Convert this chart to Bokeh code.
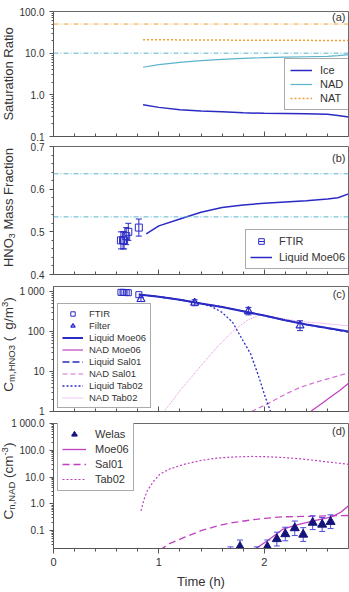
import math
from bokeh.plotting import figure
from bokeh.layouts import column, row
from bokeh.core.properties import value
from bokeh.models import (Range1d, FixedTicker, CustomJSTickFormatter, Span,
                          Label, Legend, LegendItem)
from bokeh.embed import file_html
from bokeh.resources import INLINE

# ---------------- data ----------------
# (a) saturation ratios
t_sat = [0.85, 1.0, 1.2, 1.4, 1.6, 1.8, 2.0, 2.2, 2.4, 2.6, 2.7, 2.8]
s_ice = [0.58, 0.50, 0.44, 0.41, 0.39, 0.37, 0.36, 0.355, 0.35, 0.34, 0.32, 0.295]
s_nad = [4.6, 5.3, 6.0, 6.6, 7.1, 7.5, 7.8, 8.0, 8.2, 8.4, 8.7, 9.2]
s_nat = [21.0, 21.0, 20.8, 20.7, 20.6, 20.5, 20.5, 20.4, 20.3, 20.2, 20.1, 20.0]
s_ref_nat = 50.0
s_ref_nad = 10.0

# (b) HNO3 mass fraction
t_ftir = [0.64, 0.66, 0.67, 0.69, 0.71, 0.81]
w_ftir = [0.48, 0.48, 0.48, 0.49, 0.50, 0.51]
w_ftir_lo = [0.46, 0.46, 0.46, 0.47, 0.48, 0.49]
w_ftir_hi = [0.50, 0.50, 0.50, 0.51, 0.52, 0.53]
t_wliq = [0.88, 1.0, 1.2, 1.4, 1.6, 1.8, 2.0, 2.2, 2.4, 2.6, 2.7, 2.8]
w_liq = [0.495, 0.514, 0.530, 0.546, 0.557, 0.563, 0.567, 0.570, 0.573, 0.577, 0.580, 0.589]
w_nad = 0.636
w_nat = 0.535

# (c) HNO3 mass concentration
c_ftir = [950, 950, 940, 940, 930, 830]
t_filter = [0.83, 1.34, 1.85, 2.34]
c_filter = [640, 520, 320, 140]
c_filter_lo = [560, 440, 260, 105]
c_filter_hi = [720, 620, 400, 185]
t_liq = [0.81, 1.0, 1.2, 1.4, 1.6, 1.8, 2.0, 2.2, 2.4, 2.6, 2.8]
c_liq_moe = [840, 740, 620, 500, 410, 320, 250, 190, 150, 122, 100]
c_liq_sal = [840, 740, 620, 500, 410, 320, 250, 190, 150, 120, 97]
t_liq_tab = [0.81, 1.0, 1.2, 1.4, 1.5, 1.6, 1.7, 1.8, 1.87, 1.95, 2.01, 2.06]
c_liq_tab = [840, 740, 620, 490, 420, 300, 170, 58, 28, 7.2, 2.3, 1.0]
t_nad_moe = [2.44, 2.55, 2.63, 2.72, 2.8]
c_nad_moe = [1.0, 1.6, 2.3, 3.4, 5.1]
t_nad_sal = [1.88, 2.03, 2.2, 2.34, 2.5, 2.66, 2.8]
c_nad_sal = [1.0, 1.55, 2.7, 4.0, 5.5, 7.2, 9.3]
t_nad_tab = [1.05, 1.2, 1.39, 1.55, 1.71, 1.84, 1.96, 2.1, 2.34, 2.6, 2.8]
c_nad_tab = [1.0, 3.3, 13, 40, 106, 190, 262, 225, 178, 155, 138]

# (d) NAD number concentration
t_welas = [1.68, 1.77, 1.93, 2.03, 2.12, 2.20, 2.29, 2.37, 2.46, 2.55, 2.63]
n_welas = [0.014, 0.025, 0.014, 0.025, 0.049, 0.075, 0.125, 0.072, 0.20, 0.17, 0.215]
n_welas_lo = [0.008, 0.014, 0.008, 0.014, 0.027, 0.042, 0.066, 0.040, 0.11, 0.094, 0.12]
n_welas_hi = [0.025, 0.045, 0.025, 0.045, 0.088, 0.135, 0.23, 0.13, 0.36, 0.31, 0.39]
t_n_moe = [1.9, 2.03, 2.18, 2.3, 2.4, 2.5, 2.6, 2.66, 2.73, 2.8]
n_moe = [0.019, 0.042, 0.115, 0.16, 0.2, 0.25, 0.3, 0.36, 0.5, 0.85]
t_n_sal = [1.01, 1.1, 1.24, 1.4, 1.55, 1.7, 1.87, 2.0, 2.18, 2.35, 2.5, 2.65, 2.8]
n_sal = [0.019, 0.033, 0.056, 0.1, 0.15, 0.2, 0.25, 0.29, 0.33, 0.34, 0.35, 0.36, 0.37]
t_n_tab = [0.83, 0.86, 0.89, 0.95, 1.01, 1.1, 1.24, 1.4, 1.55, 1.7, 1.87, 2.0, 2.18, 2.35, 2.5, 2.65, 2.8]
n_tab = [0.55, 1.5, 3.1, 7.0, 12.8, 20, 30, 42, 51, 56, 59, 58, 54, 48, 41, 35, 30]

x_major = [0, 1, 2]
x_minor = [0.2, 0.4, 0.6, 0.8, 1.2, 1.4, 1.6, 1.8, 2.2, 2.4, 2.6]

# ---------------- style ----------------
FONT = "Liberation Sans"
TXT = "#333333"
AXC = "#555555"
BLUE = "#2a2ac4"
LBLUE = "#5ab4cc"
ORANGE = "#f0a030"
MAG = "#c040c0"
PINK = "#d070d0"
LPINK = "#e08ce0"
NAVY = "#14147a"
EBAR = "#4c4cde"
LAB_W = 20   # width of the strip that carries the rotated y titles

ADV = {'C': .722, 'm': .833, ',': .278, 'H': .722, 'N': .722, 'O': .778, '3': .556,
       ' ': .278, '(': .333, ')': .333, 'g': .556, '/': .278, 'n': .556, 'A': .667,
       'D': .722, 'c': .5, '-': .333, 'M': .833, 'a': .556, 's': .5, 'F': .611,
       'r': .333, 't': .278, 'i': .222, 'o': .556, 'S': .667, 'u': .556, 'R': .722}


def text_len(txt, size):
    return sum(ADV.get(ch, .556) for ch in txt) * size


def make_fig(height, y_type, y_rng, top, bottom, xlabels):
    p = figure(width=349, height=height, y_axis_type=y_type,
               x_range=Range1d(0, 2.8), y_range=Range1d(*y_rng),
               output_backend="svg", toolbar_location=None, tools="",
               min_border_left=53, min_border_right=1,
               min_border_top=top, min_border_bottom=bottom)
    p.grid.visible = False
    p.outline_line_color = "#6a6a6a"
    p.outline_line_width = 1
    p.border_fill_alpha = 0.0
    p.background_fill_color = "white"
    xa = p.xaxis[0]
    xa.ticker = FixedTicker(ticks=x_major, minor_ticks=x_minor)
    xa.axis_line_color = AXC
    xa.major_tick_line_color = AXC
    xa.minor_tick_line_color = AXC
    if xlabels:
        xa.major_tick_out, xa.major_tick_in = 5, 0
        xa.minor_tick_out, xa.minor_tick_in = 3, 0
        xa.major_label_text_font = FONT
        xa.major_label_text_font_size = "11px"
        xa.major_label_text_color = TXT
        xa.major_label_standoff = 4
        xa.axis_label = "Time (h)"
        xa.axis_label_text_font = FONT
        xa.axis_label_text_font_size = "13px"
        xa.axis_label_text_font_style = "normal"
        xa.axis_label_text_color = TXT
        xa.axis_label_standoff = 5
    else:
        xa.major_tick_out, xa.major_tick_in = 0, 5
        xa.minor_tick_out, xa.minor_tick_in = 0, 3
        xa.formatter = CustomJSTickFormatter(code="return ''")
        xa.major_label_text_font_size = "1px"
        xa.major_label_standoff = 0
    ya = p.yaxis[0]
    ya.axis_line_color = AXC
    ya.major_tick_line_color = AXC
    ya.minor_tick_line_color = AXC
    ya.major_tick_out, ya.major_tick_in = 4, 0
    ya.minor_tick_out, ya.minor_tick_in = 2, 0
    ya.major_label_text_font = FONT
    ya.major_label_text_font_size = "10px"
    ya.major_label_text_color = TXT
    ya.major_label_standoff = 5
    return p


def log_minor(lo_exp, hi_exp):
    return [k * 10.0 ** e for e in range(lo_exp, hi_exp) for k in range(2, 10)]


def fmt(decimals):
    return CustomJSTickFormatter(code=f"""
        let s = tick.toFixed({decimals});
        const parts = s.split('.');
        if (parts[0].length > 3) {{
            parts[0] = parts[0].slice(0, parts[0].length - 3) + ' ' + parts[0].slice(-3);
        }}
        return parts.join('.');
    """)


def tag(p, txt, y):
    p.add_layout(Label(x=292, y=y, x_units="screen", y_units="screen", text=txt,
                       text_font=FONT, text_font_size="11px", text_align="right",
                       text_baseline="middle", text_color=TXT))


def style_legend(leg, size):
    leg.label_text_font = FONT
    leg.label_text_font_size = f"{size}px"
    leg.label_text_color = TXT
    leg.border_line_color = "#555555"
    leg.border_line_width = 1
    leg.background_fill_alpha = 1.0
    leg.margin = 0


def errorbars(p, t, lo, hi, color, cap=6):
    p.segment(x0=t, y0=lo, x1=t, y1=hi, line_color=color, line_width=1)
    p.scatter(x=t, y=lo, marker="dash", size=cap, line_color=color, line_width=1)
    p.scatter(x=t, y=hi, marker="dash", size=cap, line_color=color, line_width=1)


# ---------------- strip with the rotated y-axis titles ----------------
lab = figure(width=LAB_W, height=592, x_range=Range1d(0, LAB_W), y_range=Range1d(592, 0),
             output_backend="svg", toolbar_location=None, tools="",
             x_axis_location=None, y_axis_location=None, min_border=0)
lab.grid.visible = False
lab.outline_line_color = None
lab.background_fill_alpha = 0.0
lab.border_fill_alpha = 0.0


def y_title(pieces, center, x=7.5):
    # pieces: (text, font size, sideways shift); a number alone is a gap in em of 13px
    def adv(piece):
        return 13 * piece if not isinstance(piece, tuple) else text_len(piece[0], piece[1])
    total = sum(adv(pc) for pc in pieces)
    y = center + total / 2
    for pc in pieces:
        if isinstance(pc, tuple):
            txt, size, shift = pc
            lab.text(x=[x + shift], y=[y], text=[txt], angle=math.pi / 2,
                     text_font=value(FONT), text_font_size=value(f"{size}px"),
                     text_align="left", text_baseline="middle", text_color=TXT)
        y -= adv(pc)


SP = 0.278
y_title([("Saturation Ratio", 13, 0)], 73.5)
y_title([("HNO", 13, 0), ("3", 9, 3.5), SP, ("Mass Fraction", 13, 0)], 207)
y_title([("C", 13.5, 0), ("m,HNO3", 9.5, 3.5), SP, ("(", 13.5, 0), 2 * SP, ("g/m", 13.5, 0),
         ("3", 9.5, -3.5), (")", 13.5, 0)], 344)
y_title([("C", 13.5, 0), ("n,NAD", 9.5, 3.5), SP, ("(cm", 13.5, 0), ("-3", 9.5, -3.5),
         (")", 13.5, 0)], 480.5)

# ---------------- (a) saturation ratio ----------------
pa = make_fig(141, "log", (0.1, 100), 11, 5, False)
pa.yaxis[0].ticker = FixedTicker(ticks=[0.1, 1, 10, 100], minor_ticks=log_minor(-1, 2))
pa.yaxis[0].formatter = fmt(1)
pa.add_layout(Span(location=s_ref_nat, dimension="width", line_color=ORANGE,
                   line_width=1, line_dash="5 2 1 2"))
pa.add_layout(Span(location=s_ref_nad, dimension="width", line_color=LBLUE,
                   line_width=1, line_dash="5 2 1 2"))
r_ice = pa.line(t_sat, s_ice, line_color=BLUE, line_width=1.5)
r_nad = pa.line(t_sat, s_nad, line_color=LBLUE, line_width=1.2)
r_nat = pa.line(t_sat, s_nat, line_color=ORANGE, line_width=1.5, line_dash="2 2")
leg_a = Legend(items=[LegendItem(label="Ice", renderers=[r_ice]),
                      LegendItem(label="NAD", renderers=[r_nad]),
                      LegendItem(label="NAT", renderers=[r_nat])],
               location=(231, 26), glyph_width=22, glyph_height=12, label_height=12,
               spacing=2, padding=5, label_standoff=8)
style_legend(leg_a, 11)
pa.add_layout(leg_a)
tag(pa, "(a)", 120)

# ---------------- (b) HNO3 mass fraction ----------------
pb = make_fig(139, "linear", (0.4, 0.7), 5, 6, False)
pb.yaxis[0].ticker = FixedTicker(ticks=[0.4, 0.5, 0.6, 0.7],
                                 minor_ticks=[0.42, 0.44, 0.46, 0.48, 0.52, 0.54, 0.56,
                                              0.58, 0.62, 0.64, 0.66, 0.68])
pb.yaxis[0].formatter = fmt(1)
pb.add_layout(Span(location=w_nad, dimension="width", line_color=LBLUE,
                   line_width=1, line_dash="5 2 1 2"))
pb.add_layout(Span(location=w_nat, dimension="width", line_color=LBLUE,
                   line_width=1, line_dash="5 2 1 2"))
r_wliq = pb.line(t_wliq, w_liq, line_color=BLUE, line_width=1.5)
errorbars(pb, t_ftir, w_ftir_lo, w_ftir_hi, BLUE)
r_ftir_b = pb.scatter(t_ftir, w_ftir, marker="square", size=7, line_color=BLUE,
                      fill_alpha=0.0, line_width=1)
r_ftir_b_bar = pb.scatter([-1], [0.5], marker="dash", angle=math.pi / 2, size=13,
                          line_color=BLUE, line_width=1)
leg_b = Legend(items=[LegendItem(label="FTIR", renderers=[r_ftir_b_bar, r_ftir_b]),
                      LegendItem(label="Liquid Moe06", renderers=[r_wliq])],
               location=(192, 5), glyph_width=22, glyph_height=14, label_height=14,
               spacing=2, padding=4, label_standoff=7)
style_legend(leg_b, 11)
pb.add_layout(leg_b)
tag(pb, "(b)", 117)

# ---------------- (c) HNO3 mass concentration ----------------
pc = make_fig(137, "log", (1, 1330), 6, 6, False)
pc.yaxis[0].ticker = FixedTicker(ticks=[1, 10, 100, 1000], minor_ticks=log_minor(0, 3))
pc.yaxis[0].formatter = fmt(0)
r_nad_tab = pc.line(t_nad_tab, c_nad_tab, line_color=LPINK, line_width=1, line_dash="1 1")
r_nad_sal = pc.line(t_nad_sal, c_nad_sal, line_color=PINK, line_width=1.2, line_dash="5 3")
r_nad_moe = pc.line(t_nad_moe, c_nad_moe, line_color=MAG, line_width=1.2)
r_liq_tab = pc.line(t_liq_tab, c_liq_tab, line_color=BLUE, line_width=1.3, line_dash="2 2")
r_liq_sal = pc.line(t_liq, c_liq_sal, line_color=BLUE, line_width=1.5, line_dash="7 3")
r_liq_moe = pc.line(t_liq, c_liq_moe, line_color=BLUE, line_width=2)
r_ftir_c = pc.scatter(t_ftir, c_ftir, marker="square", size=6, line_color=BLUE,
                      fill_alpha=0.0, line_width=1)
errorbars(pc, t_filter, c_filter_lo, c_filter_hi, BLUE)
r_filter = pc.scatter(t_filter, c_filter, marker="triangle", size=8, line_color=BLUE,
                      fill_alpha=0.0, line_width=1.2)
r_filter_bar = pc.scatter([-1], [10], marker="dash", angle=math.pi / 2, size=12,
                          line_color=BLUE, line_width=1)
leg_c = Legend(items=[LegendItem(label="FTIR", renderers=[r_ftir_c]),
                      LegendItem(label="Filter", renderers=[r_filter_bar, r_filter]),
                      LegendItem(label="Liquid Moe06", renderers=[r_liq_moe]),
                      LegendItem(label="NAD Moe06", renderers=[r_nad_moe]),
                      LegendItem(label="Liquid Sal01", renderers=[r_liq_sal]),
                      LegendItem(label="NAD Sal01", renderers=[r_nad_sal]),
                      LegendItem(label="Liquid Tab02", renderers=[r_liq_tab]),
                      LegendItem(label="NAD Tab02", renderers=[r_nad_tab])],
               location=(4, 3), glyph_width=21, glyph_height=11, label_height=11,
               spacing=1, padding=4, label_standoff=6)
style_legend(leg_c, 9.5)
pc.add_layout(leg_c)
tag(pc, "(c)", 118)

# ---------------- (d) NAD number concentration ----------------
pd_ = make_fig(175, "log", (0.0217, 1000), 6, 44, True)
pd_.yaxis[0].ticker = FixedTicker(ticks=[0.1, 1, 10, 100, 1000], minor_ticks=log_minor(-2, 3))
pd_.yaxis[0].formatter = fmt(1)
r_n_tab = pd_.line(t_n_tab, n_tab, line_color=MAG, line_width=1.2, line_dash="2 2")
r_n_sal = pd_.line(t_n_sal, n_sal, line_color=MAG, line_width=1.3, line_dash="7 4")
r_n_moe = pd_.line(t_n_moe, n_moe, line_color=MAG, line_width=1.3)
errorbars(pd_, t_welas, n_welas_lo, n_welas_hi, EBAR)
r_welas = pd_.scatter(t_welas, n_welas, marker="triangle", size=9, line_color=NAVY,
                      fill_color=NAVY)
r_welas_bar = pd_.scatter([-1], [1], marker="dash", angle=math.pi / 2, size=14,
                          line_color=EBAR, line_width=1)
leg_d = Legend(items=[LegendItem(label="Welas", renderers=[r_welas_bar, r_welas]),
                      LegendItem(label="Moe06", renderers=[r_n_moe]),
                      LegendItem(label="Sal01", renderers=[r_n_sal]),
                      LegendItem(label="Tab02", renderers=[r_n_tab])],
               location=(4, 57), glyph_width=24, glyph_height=14, label_height=14,
               spacing=1, padding=4, label_standoff=9)
style_legend(leg_d, 11)
pd_.add_layout(leg_d)
tag(pd_, "(d)", 118)

panels = column(pa, pb, pc, pd_, spacing=0, margin=(0, 0, 0, -LAB_W))
layout = row(lab, panels, spacing=0)
open("out.html", "w").write(file_html(layout, INLINE))
